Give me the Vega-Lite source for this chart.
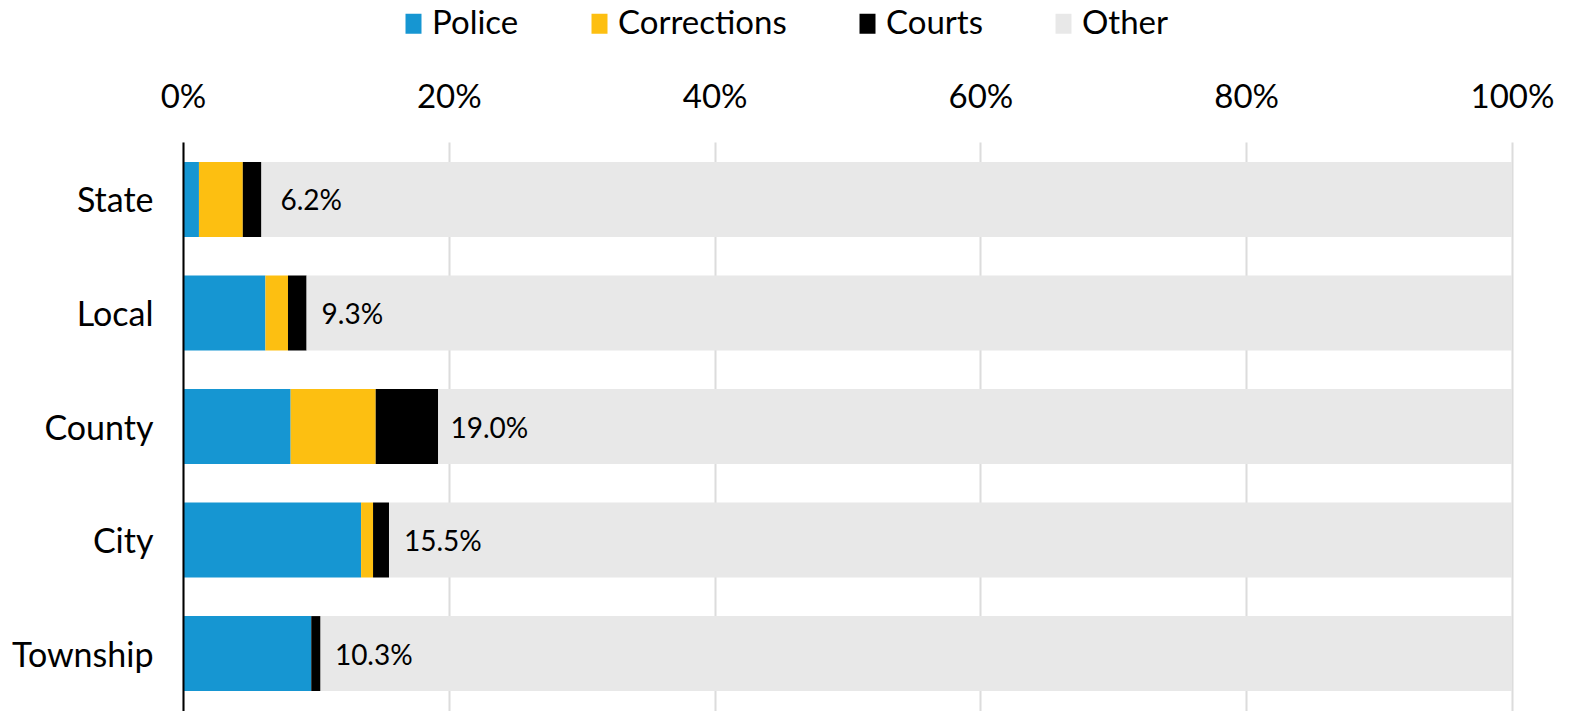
{
  "$schema": "https://vega.github.io/schema/vega-lite/v6.json",
  "autosize": "none",
  "width": 1329,
  "height": 569,
  "padding": {"left": 183, "top": 142, "right": 57, "bottom": 0},
  "background": "white",
  "config": {
    "font": "Lato",
    "view": {"stroke": null}
  },
  "datasets": {
    "segments": [
      {"level": "State", "category": "Police", "k": 1, "share": 1.2},
      {"level": "State", "category": "Corrections", "k": 2, "share": 3.3},
      {"level": "State", "category": "Courts", "k": 3, "share": 1.4},
      {"level": "State", "category": "Other", "k": 4, "share": 94.1},
      {"level": "Local", "category": "Police", "k": 1, "share": 6.2},
      {"level": "Local", "category": "Corrections", "k": 2, "share": 1.7},
      {"level": "Local", "category": "Courts", "k": 3, "share": 1.4},
      {"level": "Local", "category": "Other", "k": 4, "share": 90.7},
      {"level": "County", "category": "Police", "k": 1, "share": 8.1},
      {"level": "County", "category": "Corrections", "k": 2, "share": 6.4},
      {"level": "County", "category": "Courts", "k": 3, "share": 4.7},
      {"level": "County", "category": "Other", "k": 4, "share": 80.8},
      {"level": "City", "category": "Police", "k": 1, "share": 13.4},
      {"level": "City", "category": "Corrections", "k": 2, "share": 0.9},
      {"level": "City", "category": "Courts", "k": 3, "share": 1.2},
      {"level": "City", "category": "Other", "k": 4, "share": 84.5},
      {"level": "Township", "category": "Police", "k": 1, "share": 9.65},
      {"level": "Township", "category": "Corrections", "k": 2, "share": 0},
      {"level": "Township", "category": "Courts", "k": 3, "share": 0.7},
      {"level": "Township", "category": "Other", "k": 4, "share": 89.65}
    ],
    "totals": [
      {"level": "State", "total": 6.2, "label": "6.2%"},
      {"level": "Local", "total": 9.3, "label": "9.3%"},
      {"level": "County", "total": 19.0, "label": "19.0%"},
      {"level": "City", "total": 15.5, "label": "15.5%"},
      {"level": "Township", "total": 10.3, "label": "10.3%"}
    ]
  },
  "encoding": {
    "y": {
      "field": "level",
      "type": "nominal",
      "sort": ["State", "Local", "County", "City", "Township"],
      "scale": {"paddingInner": 0.34, "paddingOuter": 0.176},
      "axis": {
        "title": null,
        "ticks": false,
        "domainColor": "#000000",
        "domainWidth": 2,
        "labelFontSize": 34,
        "labelColor": "#000000",
        "labelPadding": 30,
        "labelOffset": 3,
        "labelFont": "Lato",
        "zindex": 1
      }
    }
  },
  "layer": [
    {
      "data": {"name": "segments"},
      "mark": {"type": "bar"},
      "encoding": {
        "x": {
          "field": "share",
          "type": "quantitative",
          "stack": "zero",
          "scale": {"domain": [0, 100], "nice": false},
          "axis": {
            "orient": "top",
            "title": null,
            "values": [0, 20, 40, 60, 80, 100],
            "labelExpr": "datum.value + '%'",
            "domain": false,
            "ticks": false,
            "grid": true,
            "gridColor": "#dcdcdc",
            "gridWidth": 2,
            "labelFontSize": 33,
            "labelColor": "#000000",
            "labelPadding": 28,
            "labelFont": "Lato",
            "labelFlush": false,
            "zindex": 0
          }
        },
        "color": {
          "field": "category",
          "type": "nominal",
          "sort": ["Police", "Corrections", "Courts", "Other"],
          "scale": {
            "domain": ["Police", "Corrections", "Courts", "Other"],
            "range": ["#1696d2", "#fdbf11", "#000000", "#e8e8e8"]
          },
          "legend": {
            "title": null,
            "orient": "none",
            "direction": "horizontal",
            "legendX": 214,
            "legendY": -135,
            "padding": 0,
            "symbolType": "M-0.8,-1H0.8V1H-0.8Z",
            "symbolSize": 400,
            "symbolStrokeWidth": 0,
            "labelFontSize": 33,
            "labelColor": "#000000",
            "labelFont": "Lato",
            "labelLimit": 400,
            "labelOffset": 2,
            "columnPadding": 64
          }
        },
        "order": {"field": "k", "type": "quantitative"}
      }
    },
    {
      "data": {"name": "totals"},
      "mark": {"type": "text", "align": "left", "baseline": "middle", "dx": 15, "dy": 3, "fontSize": 28, "color": "#000000", "font": "Lato"},
      "encoding": {
        "x": {"field": "total", "type": "quantitative"},
        "text": {"field": "label", "type": "nominal"}
      }
    }
  ]
}
